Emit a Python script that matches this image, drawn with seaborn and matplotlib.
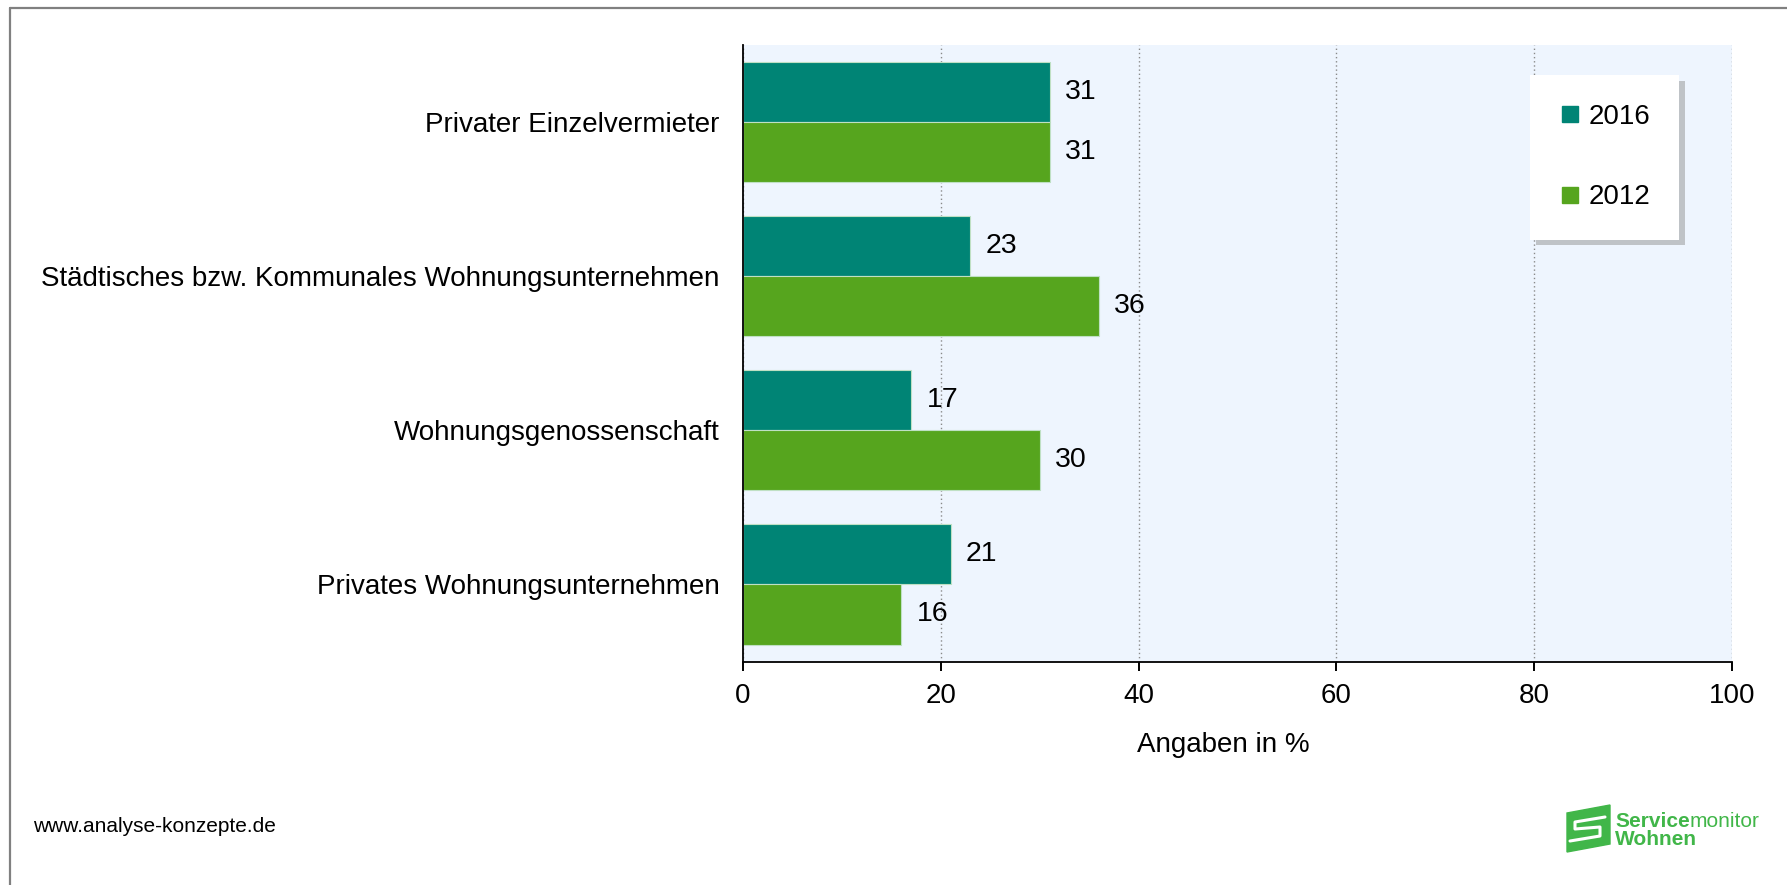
import matplotlib
matplotlib.use("Agg")
import matplotlib.pyplot as plt
import seaborn as sns
import pandas as pd
from matplotlib.lines import Line2D
from matplotlib.patches import Polygon

categories = ["Privater Einzelvermieter",
              "Städtisches bzw. Kommunales Wohnungsunternehmen",
              "Wohnungsgenossenschaft",
              "Privates Wohnungsunternehmen"]
years = ["2016", "2012"]
values_2016 = [31, 23, 17, 21]
values_2012 = [31, 36, 30, 16]
xticks = [0, 20, 40, 60, 80, 100]
colors = {"2016": "#008475", "2012": "#56A51E"}

df = pd.DataFrame({
    "Kategorie": categories * 2,
    "Jahr": ["2016"] * 4 + ["2012"] * 4,
    "Wert": values_2016 + values_2012,
})

sns.set_style("white")
plt.rcParams["font.family"] = ["Liberation Sans", "DejaVu Sans"]
plt.rcParams["text.color"] = "black"
plt.rcParams["axes.labelcolor"] = "black"
plt.rcParams["xtick.color"] = "black"
plt.rcParams["ytick.color"] = "black"

W, H = 1787, 885
fig = plt.figure(figsize=(W / 100, H / 100), dpi=100)
ax = fig.add_axes([743 / W, 1 - 661.5 / H, 989 / W, 616.5 / H])
ax.set_facecolor("#EEF5FE")

sns.barplot(data=df, y="Kategorie", x="Wert", hue="Jahr", hue_order=years,
            order=categories, palette=colors, orient="h", width=0.78,
            saturation=1, errorbar=None, legend=False, edgecolor="#bfe0c4",
            linewidth=0.8, ax=ax, zorder=3)

for cont in ax.containers:
    ax.bar_label(cont, padding=11, fontsize=20.5, color="black")

ax.set_xlim(0, 100)
ax.set_ylim(3.5, -0.5)
ax.set_xticks(xticks)
ax.set_xticklabels([str(t) for t in xticks], fontsize=20)
ax.tick_params(axis="x", direction="out", length=6.5, width=1.4, pad=9,
               colors="black", bottom=True)
ax.tick_params(axis="y", length=0, pad=17, labelsize=20, colors="black")
ax.set_ylabel("")
ax.set_xlabel("Angaben in %", fontsize=20, labelpad=12, color="black")
ax.xaxis.set_label_coords(0.486, -0.115)

ax.grid(axis="x", color="#8a8a8a", linestyle=(0, (1, 2)), linewidth=1.0, zorder=0)
ax.grid(axis="y", visible=False)
ax.set_axisbelow(True)
for s in ["top", "right"]:
    ax.spines[s].set_visible(False)
for s in ["left", "bottom"]:
    ax.spines[s].set_color("black")
    ax.spines[s].set_linewidth(1.3)
    ax.spines[s].set_zorder(5)

handles = [Line2D([], [], marker="s", linestyle="", markersize=11.5,
                  color=colors[y], label=y) for y in years]
leg = ax.legend(handles=handles, loc="upper left",
                bbox_to_anchor=((1530 - 743) / 989, (661.5 - 75) / 616.5),
                fontsize=20, frameon=True, fancybox=False,
                shadow={"ox": 4, "oy": -4, "color": "#9a9a9a", "alpha": 0.55},
                borderpad=1.05, labelspacing=1.95, handletextpad=0.25,
                handlelength=0.8, borderaxespad=0)
leg.get_frame().set_edgecolor("white")
leg.get_frame().set_facecolor("white")
leg.get_frame().set_linewidth(0)
for t in leg.get_texts():
    t.set_color("black")

# outer frame lines (top and left)
fig.add_artist(Line2D([10 / W, 1], [1 - 8 / H, 1 - 8 / H], color="#808080", lw=1.6))
fig.add_artist(Line2D([10 / W, 10 / W], [0, 1 - 8 / H], color="#808080", lw=1.6))

fig.text(33 / W, 1 - 827 / H, "www.analyse-konzepte.de", fontsize=15,
         va="center", ha="left", color="black")

# logo
green = "#41B649"
poly = Polygon([(1567 / W, 1 - 813 / H), (1610 / W, 1 - 805 / H),
                (1610 / W, 1 - 844 / H), (1567 / W, 1 - 852 / H)],
               closed=True, transform=fig.transFigure, color=green)
fig.add_artist(poly)
fig.add_artist(Line2D([1605 / W, 1575 / W, 1575 / W, 1600 / W, 1600 / W, 1570 / W],
                      [1 - 817 / H, 1 - 822 / H, 1 - 829 / H, 1 - 827 / H, 1 - 836 / H, 1 - 841 / H],
                      color="white", lw=2.2, solid_capstyle="round"))
t1 = fig.text(1615 / W, 1 - 827 / H, "Service", fontsize=15, fontweight="bold",
              color=green, va="baseline", ha="left")
fig.canvas.draw()
bb = t1.get_window_extent()
fig.text(bb.x1 / W, 1 - 827 / H, "monitor", fontsize=15, color=green,
         va="baseline", ha="left")
fig.text(1615 / W, 1 - 845 / H, "Wohnen", fontsize=15, fontweight="bold",
         color=green, va="baseline", ha="left")

fig.savefig("out.png", dpi=100, facecolor="white")
